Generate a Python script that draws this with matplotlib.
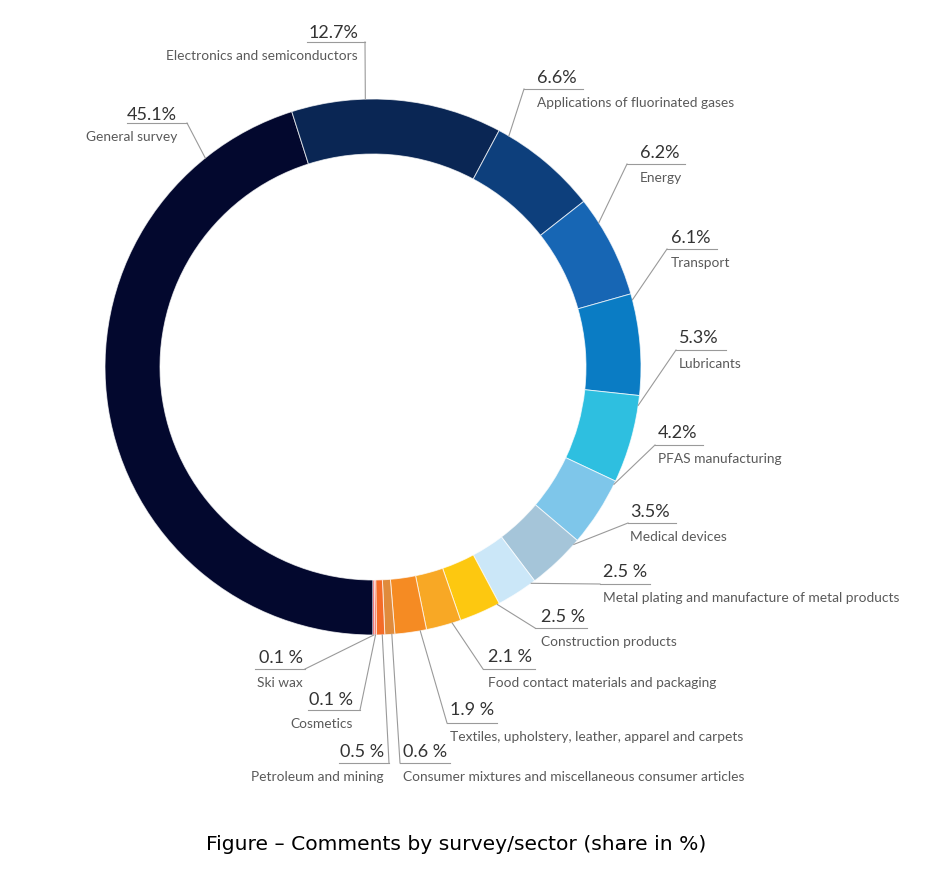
import numpy as np
from matplotlib import pyplot as plt

# shares in %, clockwise from the bottom of the ring
sectors = ['General survey', 'Electronics and semiconductors',
           'Applications of fluorinated gases', 'Energy', 'Transport',
           'Lubricants', 'PFAS manufacturing', 'Medical devices',
           'Metal plating and manufacture of metal products',
           'Construction products', 'Food contact materials and packaging',
           'Textiles, upholstery, leather, apparel and carpets',
           'Consumer mixtures and miscellaneous consumer articles',
           'Petroleum and mining', 'Cosmetics', 'Ski wax']
shares = [45.1, 12.7, 6.6, 6.2, 6.1, 5.3, 4.2, 3.5, 2.5, 2.5, 2.1, 1.9,
          0.6, 0.5, 0.1, 0.1]
share_labels = ['45.1%', '12.7%', '6.6%', '6.2%', '6.1%', '5.3%', '4.2%',
                '3.5%', '2.5 %', '2.5 %', '2.1 %', '1.9 %', '0.6 %', '0.5 %',
                '0.1 %', '0.1 %']
colors = ['#03082e', '#0a2654', '#0d3f7c', '#1766b4', '#0a7cc4', '#2ebfe0',
          '#7ec6ea', '#a5c5d9', '#cbe7f8', '#fdc810', '#f8a825', '#f58b23',
          '#e08b3c', '#f46c28', '#f35a3a', '#e8353a']

# label layout in pixels (top-left origin)
side = ['L', 'L', 'R', 'R', 'R', 'R', 'R', 'R', 'R', 'R', 'R', 'R', 'R',
        'L', 'L', 'L']
text_x = [177, 358, 537, 640, 671, 679, 658, 630, 603, 541, 488, 450, 403,
          384, 353, 303]
pct_y = [115, 33, 78, 153, 238, 338, 433, 512, 572, 617, 657, 710, 752,
         752, 700, 658]
line_y = [123, 42, 89, 164, 249, 350, 445, 523, 584, 628, 669, 723, 763,
          763, 710, 669]
line_x0 = [127, 307, 524, 627, 667, 676, 655, 628, 600, 535, 483, 447, 400,
           339, 308, 255]
line_x1 = [187, 365, 583, 685, 717, 726, 703, 676, 650, 587, 535, 497, 450,
           389, 360, 305]
# where along each wedge the leader touches the ring (0 = start, 1 = end)
leader_frac = [0.87, 0.35, 0.1, 0.25, 0.06, 0.11, 0.05, 0.09, 0.1, 0.05,
               0.25, 0.2, 0.3, 0.3, 0.5, 0.5]

W, H = 946, 875
cx, cy, R, ring = 373, 367, 268, 55

fig = plt.figure(figsize=(W / 100, H / 100), dpi=100)
ax = fig.add_axes([0, 0, 1, 1])

ax.pie(shares, colors=colors, center=(cx, H - cy), radius=R,
       startangle=-90, counterclock=False, normalize=True,
       wedgeprops=dict(width=ring, edgecolor=(1, 1, 1, 0.7), linewidth=0.7))

ax.set_xlim(0, W)
ax.set_ylim(0, H)
ax.set_aspect('equal')
ax.axis('off')

line_col = '#9a9a9a'
pct_col = '#333333'
name_col = '#5a5a5a'
font = ['Lato', 'DejaVu Sans']

cum = np.concatenate([[0], np.cumsum(shares)]) / 100 * 360
for i, name in enumerate(sectors):
    c = cum[i] + leader_frac[i] * (cum[i + 1] - cum[i])
    ang = np.deg2rad(-90 - c)
    px, py = cx + R * np.cos(ang), H - cy + R * np.sin(ang)
    ly = H - line_y[i]
    ax.plot([line_x0[i], line_x1[i]], [ly, ly], color=line_col, lw=0.8)
    start = line_x0[i] if side[i] == 'R' else line_x1[i]
    ax.plot([start, px], [ly, py], color=line_col, lw=0.8)
    ha = 'left' if side[i] == 'R' else 'right'
    ax.text(text_x[i], H - pct_y[i], share_labels[i], ha=ha, va='center',
            fontsize=13, color=pct_col, family=font)
    ax.text(text_x[i], ly - 14, name, ha=ha, va='center',
            fontsize=9.9, color=name_col, family=font)

ax.text(456, H - 845, 'Figure \u2013 Comments by survey/sector (share in %)',
        ha='center', va='center', fontsize=14.6, color='black',
        family='DejaVu Sans')

fig.savefig('out.png', dpi=100)
